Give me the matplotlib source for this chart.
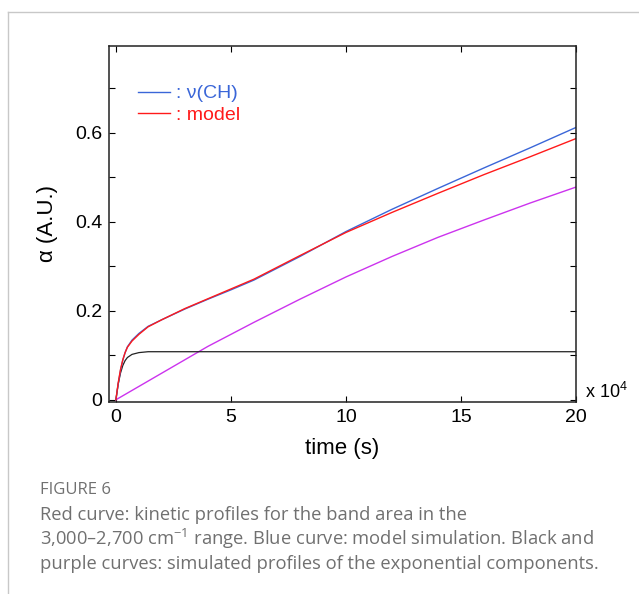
import numpy as np
import matplotlib.pyplot as plt
from matplotlib.lines import Line2D

# time in units of 1e4 s
t_fast = [0, 0.1, 0.2, 0.3, 0.4, 0.5, 0.7, 1.0, 1.4, 2, 3, 4, 5, 6, 8, 10, 12, 14, 16, 18, 20]
black = [0, 0.035, 0.060, 0.077, 0.088, 0.095, 0.102, 0.106, 0.108, 0.108, 0.108, 0.108, 0.108,
         0.108, 0.108, 0.108, 0.108, 0.108, 0.108, 0.108, 0.108]
purple = [0, 0.003, 0.006, 0.009, 0.012, 0.015, 0.021, 0.030, 0.042, 0.060, 0.090, 0.120, 0.147,
          0.174, 0.226, 0.276, 0.322, 0.365, 0.404, 0.442, 0.478]
red = [0, 0.038, 0.068, 0.090, 0.106, 0.118, 0.132, 0.147, 0.164, 0.180, 0.205, 0.227, 0.249,
       0.271, 0.324, 0.376, 0.421, 0.464, 0.506, 0.546, 0.587]
blue = [0, 0.036, 0.066, 0.089, 0.106, 0.119, 0.134, 0.149, 0.165, 0.180, 0.204, 0.226, 0.247,
        0.269, 0.322, 0.378, 0.428, 0.475, 0.521, 0.566, 0.612]

xticks = [0, 5, 10, 15, 20]
yticks = [0, 0.1, 0.2, 0.3, 0.4, 0.5, 0.6, 0.7]
ylabels = ['0', '', '0.2', '', '0.4', '', '0.6', '']

plt.rcParams['font.family'] = ['Liberation Sans', 'DejaVu Sans']

fig = plt.figure(figsize=(6.39, 5.94), dpi=100)
ax = fig.add_axes([109 / 639, 1 - 402 / 594, 467 / 639, 356 / 594])

c_blue = '#3a66d8'
c_red = '#ff1a1a'
c_purple = '#cc33ee'

ax.plot(t_fast, purple, color=c_purple, lw=1.0)
ax.plot(t_fast, black, color='#222222', lw=0.9)
ax.plot(t_fast, blue, color=c_blue, lw=1.0)
ax.plot(t_fast, red, color=c_red, lw=1.0)

ax.set_xlim(-0.3, 20)
ax.set_ylim(-0.005, 0.795)
ax.set_xticks(xticks)
ax.set_xticklabels([str(v) for v in xticks])
ax.set_yticks(yticks)
ax.set_yticklabels(ylabels)
ax.tick_params(direction='in', length=4, width=0.8, labelsize=14, top=True, right=True, pad=5)
for s in ax.spines.values():
    s.set_linewidth(1.1)
    s.set_color('#222222')

ax.set_xlabel('time (s)', fontsize=16, labelpad=9)
ax.set_ylabel('α (A.U.)', fontsize=16, labelpad=12)
ax.text(1.02, 0.0, 'x 10$^{\\mathregular{4}}$', transform=ax.transAxes, fontsize=13,
        ha='left', va='bottom')

handles = [Line2D([], [], color=c_blue, lw=1.0), Line2D([], [], color=c_red, lw=1.0)]
ax.legend(handles, [': ν(CH)', ': model'], loc='upper left', bbox_to_anchor=(0.025, 0.94),
          frameon=False, fontsize=14, handlelength=1.65, handletextpad=0.3, labelspacing=0.2,
          labelcolor=[c_blue, c_red])

# caption panel border
fig.add_artist(Line2D([8 / 639, 1], [1 - 12 / 594, 1 - 12 / 594], color='#c8c8c8', lw=1.0))
fig.add_artist(Line2D([8 / 639, 8 / 639], [0, 1 - 12 / 594], color='#c8c8c8', lw=1.0))

cap_font = ['Open Sans', 'DejaVu Sans']
fig.text(40 / 639, 1 - 490 / 594, 'FIGURE 6', fontsize=12, color='#707070', family=cap_font,
         va='center')
lines = ['Red curve: kinetic profiles for the band area in the',
         '3,000\u20132,700 cm$^{\\mathregular{-1}}$ range. Blue curve: model simulation. Black and',
         'purple curves: simulated profiles of the exponential components.']
for i, ln in enumerate(lines):
    fig.text(40 / 639, 1 - (515 + 24.3 * i) / 594, ln, fontsize=13.2, color='#707070',
             family=cap_font, va='center')

fig.savefig('out.png', dpi=100)
